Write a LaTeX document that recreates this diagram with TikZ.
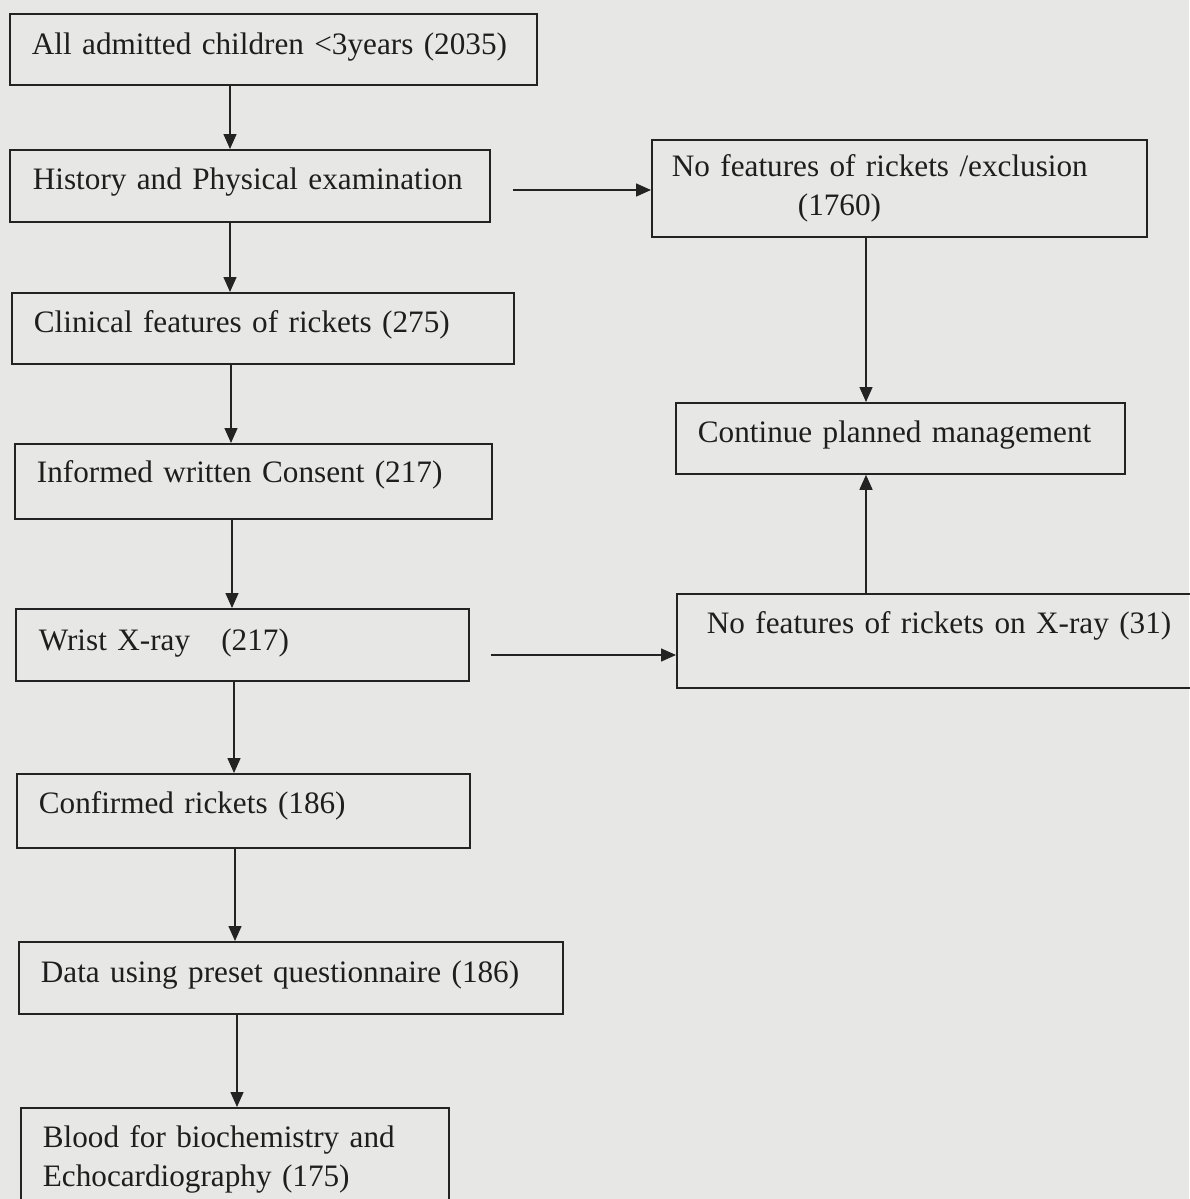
\documentclass[tikz,border=0pt]{standalone}
\usepackage{fontspec}
\setmainfont{Liberation Serif}
\usetikzlibrary{arrows.meta}
\definecolor{bgc}{RGB}{231,231,230}
\definecolor{textc}{RGB}{30,30,30}
\definecolor{linec}{RGB}{35,35,35}
\newcommand{\boxfont}{\fontsize{31.2}{39}\selectfont}
\tikzset{
  flowbox/.style={draw=linec, line width=1.8pt, anchor=north west, inner xsep=#1,
    inner ysep=0pt, align=left, text=textc, font=\boxfont},
  arr/.style={draw=linec, line width=1.5pt, -{Triangle[length=15pt,width=13pt]}}
}
\begin{document}
\begin{tikzpicture}[x=1pt,y=-1pt]
\fill[bgc] (0,0) rectangle (1189,1199);
\useasboundingbox (0,0) rectangle (1189,1199);

% left column
\node[flowbox=22, text width=483pt, text height=41pt, text depth=30pt] (b1) at (9,13)
  {\mbox{All admitted children <3years (2035)}};
\node[flowbox=23, text width=434pt, text height=40pt, text depth=32pt] (b2) at (9,149)
  {\mbox{History and Physical examination}};
\node[flowbox=22, text width=458pt, text height=40pt, text depth=31pt] (b4) at (11,292)
  {\mbox{Clinical features of rickets (275)}};
\node[flowbox=22, text width=433pt, text height=39pt, text depth=36pt] (b6) at (14,443)
  {\mbox{Informed written Consent (217)}};
\node[flowbox=23, text width=407pt, text height=42pt, text depth=30pt] (b7) at (15,608)
  {\mbox{Wrist X-ray~~~(217)}};
\node[flowbox=22, text width=409pt, text height=40pt, text depth=34pt] (b9) at (16,773)
  {\mbox{Confirmed rickets (186)}};
\node[flowbox=22, text width=500pt, text height=41pt, text depth=31pt] (b10) at (18,941)
  {\mbox{Data using preset questionnaire (186)}};
\node[flowbox=22, text width=384pt, minimum height=103pt] (b11) at (20,1107)
  {Blood for biochemistry and\\Echocardiography (175)};

% right column
\node[flowbox=20, text width=455pt, minimum height=97pt] (b3) at (651,139)
  {\mbox{No features of rickets /exclusion}\\\hspace*{126pt}(1760)};
\node[flowbox=22, text width=405pt, text height=40pt, text depth=31pt] (b5) at (675,402)
  {\mbox{Continue planned management}};
\node[flowbox=30, text width=464pt, text height=40pt, text depth=54pt] (b8) at (676,593)
  {\mbox{No features of rickets on X-ray (31)}};

% helper coordinates for connector positions
\coordinate (x1) at (230,0);
\coordinate (x2) at (230,0);
\coordinate (x3) at (231,0);
\coordinate (x4) at (232,0);
\coordinate (x5) at (234,0);
\coordinate (x6) at (235,0);
\coordinate (x7) at (237,0);
\coordinate (xr) at (866,0);
\coordinate (h1) at (513,190);
\coordinate (h2) at (491,655);

% connectors
\draw[arr] (b1.south -| x1) -- (b2.north -| x1);
\draw[arr] (b2.south -| x2) -- (b4.north -| x2);
\draw[arr] (b4.south -| x3) -- (b6.north -| x3);
\draw[arr] (b6.south -| x4) -- (b7.north -| x4);
\draw[arr] (b7.south -| x5) -- (b9.north -| x5);
\draw[arr] (b9.south -| x6) -- (b10.north -| x6);
\draw[arr] (b10.south -| x7) -- (b11.north -| x7);
\draw[arr] (h1) -- (h1 -| b3.west);
\draw[arr] (b3.south -| xr) -- (b5.north -| xr);
\draw[arr] (h2) -- (h2 -| b8.west);
\draw[arr] (b8.north -| xr) -- (b5.south -| xr);
\end{tikzpicture}
\end{document}
